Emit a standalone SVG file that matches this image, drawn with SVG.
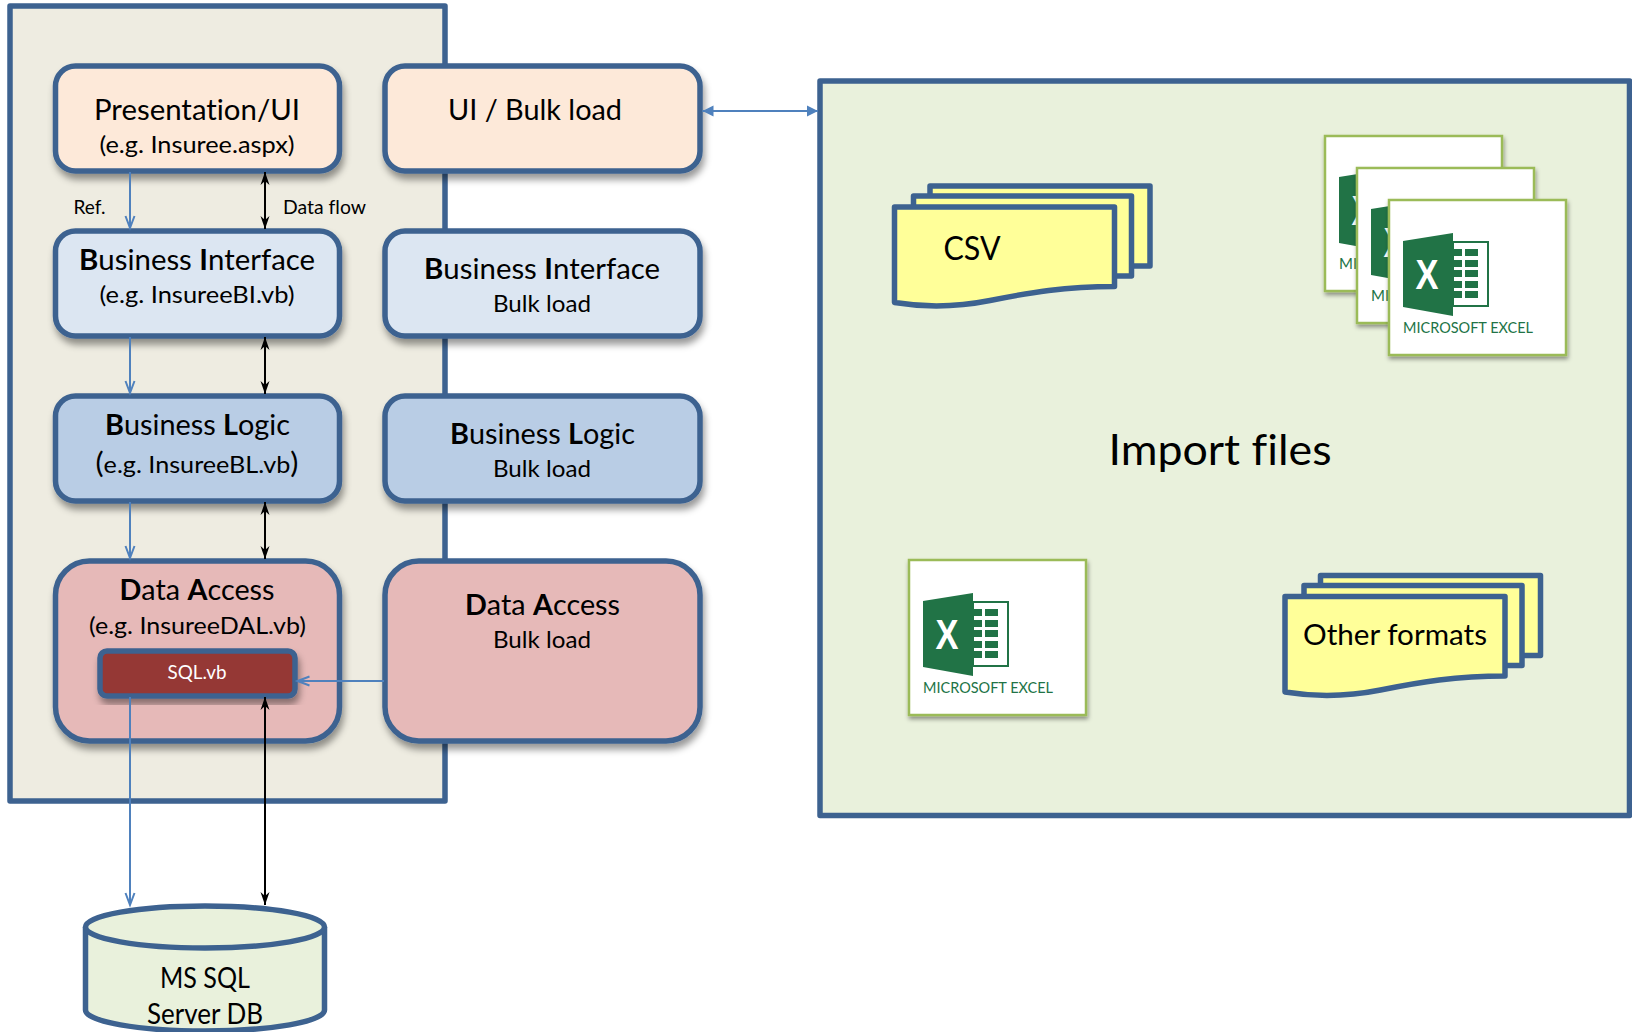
<svg xmlns="http://www.w3.org/2000/svg" width="1632" height="1032" viewBox="0 0 1632 1032">
<style>
text{font-family:Lato,"Noto Sans","Liberation Sans",sans-serif;fill:#000;text-anchor:middle;font-variant-ligatures:none}
.h{font-size:28px}.s{font-size:24px}.m{font-size:19px}
.b{font-weight:700}
.box{stroke:#3D6290;stroke-width:5.5;stroke-linejoin:round}
.n{filter:url(#sh)}
.ref{stroke:#4F81BD;stroke-width:2;fill:none}
.flow{stroke:#000;stroke-width:2;fill:none}
.card{fill:#fff;stroke:#9BBB59;stroke-width:2.5;filter:url(#sh2)}
.xl{font-size:15px;fill:#217346;text-anchor:start;font-weight:400}
.x{font-family:"Liberation Sans",sans-serif;font-size:43px;font-weight:700;fill:#fff}
</style>
<defs>
<filter id="sh" x="-10%" y="-10%" width="125%" height="130%"><feDropShadow dx="2" dy="6" stdDeviation="3.5" flood-color="#000" flood-opacity=".4"/></filter>
<filter id="sh2" x="-10%" y="-10%" width="125%" height="130%"><feDropShadow dx="1" dy="3" stdDeviation="2" flood-color="#000" flood-opacity=".4"/></filter>
<marker id="ab" markerUnits="userSpaceOnUse" markerWidth="16" markerHeight="14" refX="14" refY="7" orient="auto-start-reverse" overflow="visible"><path d="M2,2.5 L14,7 L2,11.5" fill="none" stroke="#4F81BD" stroke-width="2"/></marker>
<marker id="abf" markerUnits="userSpaceOnUse" markerWidth="16" markerHeight="14" refX="14" refY="7" orient="auto-start-reverse" overflow="visible"><path d="M3,1.5 L14,7 L3,12.5 Z" fill="#4F81BD"/></marker>
<marker id="af" markerUnits="userSpaceOnUse" markerWidth="16" markerHeight="14" refX="14" refY="7" orient="auto-start-reverse" overflow="visible"><path d="M1,2.5 L14,7 L1,11.5 L5,7 Z" fill="#000"/></marker>
<g id="stack">
<rect class="box" x="930" y="186" width="220" height="80" fill="#FFFF99"/>
<rect class="box" x="913.5" y="196" width="218" height="80" fill="#FFFF99"/>
<path class="box" d="M894.5,207 H1114.5 V286.5 C1065,286.5 1030,292.5 990,300.5 C955,307.5 925,307.5 894.5,302.5 Z" fill="#FFFF99"/>
</g>
<g id="icon">
<rect x="64" y="42" width="35" height="64" fill="#fff" stroke="#217346" stroke-width="2"/>
<path fill="#217346" d="M64,49h9v7h-9zM76,49h13v7h-13zM64,60h9v7h-9zM76,60h13v7h-13zM64,70h9v7h-9zM76,70h13v7h-13zM64,81h9v7h-9zM76,81h13v7h-13zM64,91h9v7h-9zM76,91h13v7h-13z"/>
<path fill="#217346" d="M14,41 L64,33 V116 L14,107 Z"/>
</g>
</defs>
<rect id="page" width="1632" height="1032" fill="#fff"/>
<g id="app-container"><rect class="box" x="10" y="6" width="435" height="795" fill="#EEECE1"/></g>
<g id="import-container"><rect class="box" x="820" y="81" width="809.5" height="734.5" fill="#E9F1DC"/></g>

<g id="presentation"><rect class="box n" x="55.5" y="66" width="284" height="105" rx="20" fill="#FDE9D9"/>
<text class="h" x="197" y="120" textLength="206" lengthAdjust="spacingAndGlyphs">Presentation/UI</text>
<text class="s" x="197" y="153" textLength="195" lengthAdjust="spacingAndGlyphs">(e.g. Insuree.aspx)</text></g>
<g id="ui-bulk"><rect class="box n" x="385" y="66" width="315" height="105" rx="20" fill="#FDE9D9"/>
<text class="h" x="535" y="120" textLength="174" lengthAdjust="spacingAndGlyphs">UI / Bulk load</text></g>

<g id="bi"><rect class="box n" x="55.5" y="231" width="284" height="105" rx="20" fill="#DCE6F2"/>
<text class="h" x="197" y="270" textLength="236" lengthAdjust="spacingAndGlyphs"><tspan class="b">B</tspan>usiness <tspan class="b">I</tspan>nterface</text>
<text class="s" x="197" y="303" textLength="195" lengthAdjust="spacingAndGlyphs">(e.g. InsureeBI.vb)</text></g>
<g id="bi-bulk"><rect class="box n" x="385" y="231" width="315" height="105" rx="20" fill="#DCE6F2"/>
<text class="h" x="542" y="279" textLength="236" lengthAdjust="spacingAndGlyphs"><tspan class="b">B</tspan>usiness <tspan class="b">I</tspan>nterface</text>
<text class="s" x="542" y="312" textLength="98" lengthAdjust="spacingAndGlyphs">Bulk load</text></g>

<g id="bl"><rect class="box n" x="55.5" y="396" width="284" height="105" rx="20" fill="#B9CDE5"/>
<text class="h" x="197.5" y="435" textLength="185" lengthAdjust="spacingAndGlyphs"><tspan class="b">B</tspan>usiness <tspan class="b">L</tspan>ogic</text>
<text class="s" x="197" y="473" textLength="203" lengthAdjust="spacingAndGlyphs"><tspan font-size="29">(</tspan>e.g. InsureeBL.vb<tspan font-size="29">)</tspan></text></g>
<g id="bl-bulk"><rect class="box n" x="385" y="396" width="315" height="105" rx="20" fill="#B9CDE5"/>
<text class="h" x="542.5" y="444" textLength="185" lengthAdjust="spacingAndGlyphs"><tspan class="b">B</tspan>usiness <tspan class="b">L</tspan>ogic</text>
<text class="s" x="542" y="477" textLength="98" lengthAdjust="spacingAndGlyphs">Bulk load</text></g>

<g id="da"><rect class="box n" x="55.5" y="561" width="284" height="180" rx="34" fill="#E6B9B8"/>
<text class="h" x="197" y="600" textLength="155" lengthAdjust="spacingAndGlyphs"><tspan class="b">D</tspan>ata <tspan class="b">A</tspan>ccess</text>
<text class="s" x="197.5" y="634" textLength="217" lengthAdjust="spacingAndGlyphs">(e.g. InsureeDAL.vb)</text></g>
<g id="sql"><rect class="box n" x="100" y="651" width="195" height="45" rx="7" fill="#953735"/>
<text class="m" x="197" y="679" textLength="59" lengthAdjust="spacingAndGlyphs" style="fill:#fff">SQL.vb</text></g>
<g id="da-bulk"><rect class="box n" x="385" y="561" width="315" height="180" rx="34" fill="#E6B9B8"/>
<text class="h" x="542.5" y="615" textLength="155" lengthAdjust="spacingAndGlyphs"><tspan class="b">D</tspan>ata <tspan class="b">A</tspan>ccess</text>
<text class="s" x="542" y="648" textLength="98" lengthAdjust="spacingAndGlyphs">Bulk load</text></g>

<g id="db"><path class="box" d="M85.5,927 V1010 A119.5,21 0 0 0 324.5,1010 V927" fill="#E9F1DC"/>
<ellipse class="box" cx="205" cy="927" rx="119.5" ry="21" fill="#E9F1DC"/>
<text class="h" x="205" y="988" textLength="90" lengthAdjust="spacingAndGlyphs">MS SQL</text>
<text class="h" x="205" y="1024" textLength="116" lengthAdjust="spacingAndGlyphs">Server DB</text></g>

<g id="csv"><use href="#stack"/><text x="972" y="260" font-size="33" textLength="57" lengthAdjust="spacingAndGlyphs">CSV</text></g>
<g id="other"><use href="#stack" transform="translate(390.5,389.5)"/><text class="h" x="1395" y="645" textLength="184" lengthAdjust="spacingAndGlyphs">Other formats</text></g>

<g id="excel-1" transform="translate(1325,136)"><rect class="card" width="177" height="155"/><use href="#icon"/><text class="x" x="38" y="89" textLength="23" lengthAdjust="spacingAndGlyphs">X</text><text class="xl" x="14" y="133">MI</text></g>
<g id="excel-2" transform="translate(1357,168)"><rect class="card" width="177" height="155"/><use href="#icon"/><text class="x" x="38" y="89" textLength="23" lengthAdjust="spacingAndGlyphs">X</text><text class="xl" x="14" y="133">MI</text></g>
<g id="excel-3" transform="translate(1389,200)"><rect class="card" width="177" height="155"/><use href="#icon"/><text class="x" x="38" y="89" textLength="23" lengthAdjust="spacingAndGlyphs">X</text><text class="xl" x="14" y="133" textLength="130" lengthAdjust="spacingAndGlyphs">MICROSOFT EXCEL</text></g>
<g id="excel-4" transform="translate(909,560)"><rect class="card" width="177" height="155"/><use href="#icon"/><text class="x" x="38" y="89" textLength="23" lengthAdjust="spacingAndGlyphs">X</text><text class="xl" x="14" y="133" textLength="130" lengthAdjust="spacingAndGlyphs">MICROSOFT EXCEL</text></g>

<g id="title"><text x="1220" y="465" font-size="42" textLength="223" lengthAdjust="spacingAndGlyphs">Import files</text></g>

<g id="connectors">
<path class="ref" d="M130,172 V228" marker-end="url(#ab)"/>
<path class="ref" d="M130,337 V393" marker-end="url(#ab)"/>
<path class="ref" d="M130,502 V558" marker-end="url(#ab)"/>
<path class="ref" d="M130,697 V905" marker-end="url(#ab)"/>
<path class="ref" d="M384,681 H297.5" marker-end="url(#ab)"/>
<path class="ref" d="M702.5,111 H818" marker-start="url(#abf)" marker-end="url(#abf)"/>
<path class="flow" d="M265,172 V229" marker-start="url(#af)" marker-end="url(#af)"/>
<path class="flow" d="M265,337 V394" marker-start="url(#af)" marker-end="url(#af)"/>
<path class="flow" d="M265,502 V559" marker-start="url(#af)" marker-end="url(#af)"/>
<path class="flow" d="M265,697 V905" marker-start="url(#af)" marker-end="url(#af)"/>
</g>
<g id="labels">
<text class="m" x="89.5" y="214" textLength="32" lengthAdjust="spacingAndGlyphs">Ref.</text>
<text class="m" x="324.5" y="214" textLength="83" lengthAdjust="spacingAndGlyphs">Data flow</text>
</g>
</svg>
